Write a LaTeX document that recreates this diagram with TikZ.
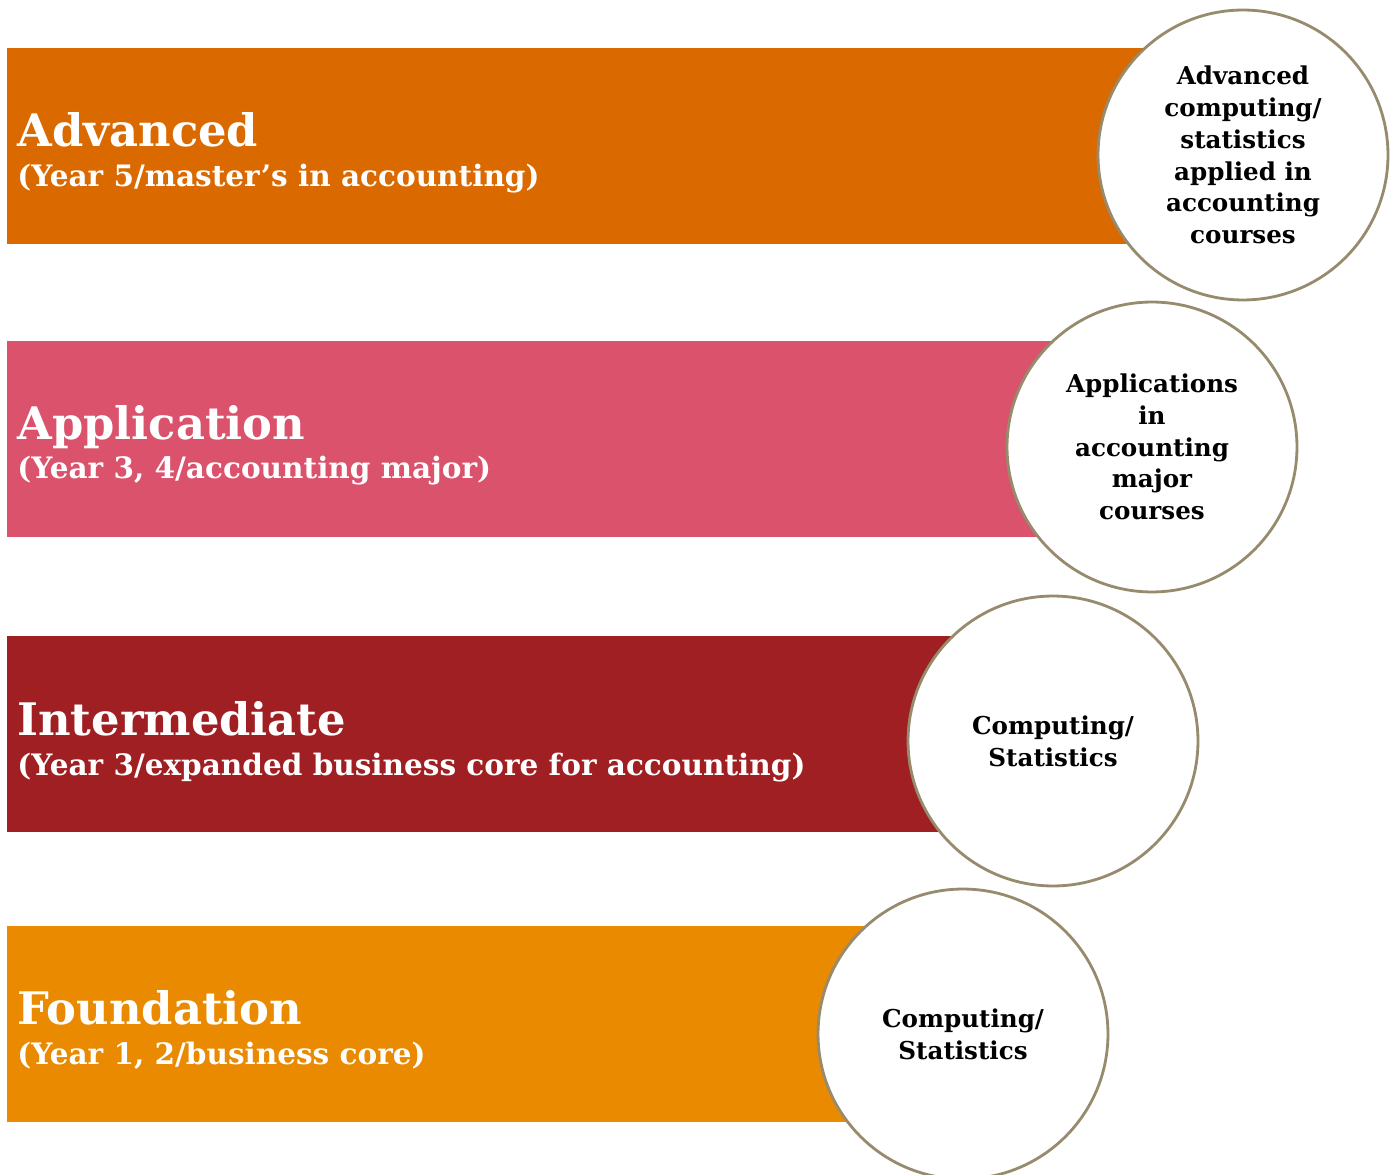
\documentclass[tikz,border=0pt]{standalone}
\usepackage{fontspec}
\setmainfont{DejaVu Serif}
\usepackage{tikz}

\definecolor{advcol}{HTML}{DA6900}
\definecolor{appcol}{HTML}{DA526C}
\definecolor{intcol}{HTML}{A01F22}
\definecolor{fndcol}{HTML}{E98A00}
\definecolor{ringcol}{HTML}{968B6C}

\begin{document}
\begin{tikzpicture}[x=0.02cm, y=-0.02cm,
  head/.style={anchor=base west, inner sep=0pt, text=white, font=\bfseries\fontsize{25.5}{30}\selectfont},
  sub/.style={anchor=base west, inner sep=0pt, text=white, font=\bfseries\fontsize{16.8}{20}\selectfont},
  ring/.style={circle, draw=ringcol, fill=white, line width=1.6pt, minimum size=5.8cm, inner sep=0pt,
    align=center, font=\bfseries\fontsize{14}{18.1}\selectfont}]
  \useasboundingbox (0,0) rectangle (1392,1175);
  % bars
  \fill [advcol] (7,48) rectangle (1243,244);
  \fill [appcol] (7,341) rectangle (1152,537);
  \fill [intcol] (7,636) rectangle (1053,832);
  \fill [fndcol] (7,926) rectangle (963,1122);
  % level names
  \node [head] (advh) at (17,147) {Advanced};
  \node [sub] (advs) at (17,187) {(Year 5/master’s in accounting)};
  \node [head] (apph) at (17,439) {Application};
  \node [sub] (apps) at (17,479) {(Year 3, 4/accounting major)};
  \node [head] (inth) at (17,735) {Intermediate};
  \node [sub] (ints) at (17,775) {(Year 3/expanded business core for accounting)};
  \node [head] (fndh) at (17,1024) {Foundation};
  \node [sub] (fnds) at (17,1064) {(Year 1, 2/business core)};
  % circles
  \node [ring] (advc) at (1243,155) {Advanced\\computing/\\statistics\\applied in\\accounting\\courses};
  \node [ring] (appc) at (1152,447) {Applications\\in\\accounting\\major\\courses};
  \node [ring] (intc) at (1053,741) {Computing/\\Statistics};
  \node [ring] (fndc) at (963,1034) {Computing/\\Statistics};
\end{tikzpicture}
\end{document}
